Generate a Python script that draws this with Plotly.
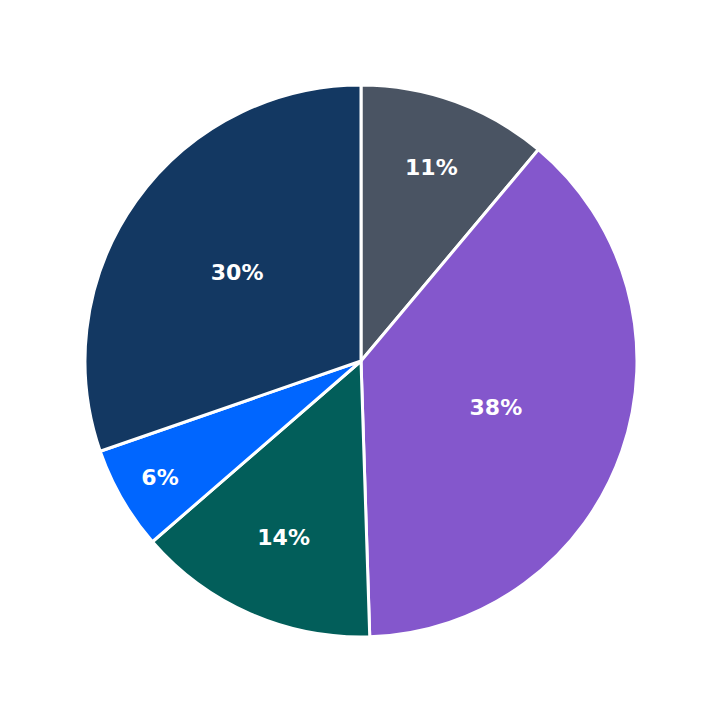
import plotly.graph_objects as go

labels = ["A", "B", "C", "D", "E"]
values = [11, 38, 14, 6, 30]
colors = ["#4a5463", "#8457cc", "#025e5a", "#0066ff", "#133862"]

fig = go.Figure(go.Pie(
    labels=labels, values=values, sort=False, direction="clockwise", rotation=0,
    marker=dict(colors=colors, line=dict(color="white", width=3)),
    texttemplate="<b>%{percent:.0%}</b>", textposition="inside",
    insidetextorientation="horizontal",
    textfont=dict(family="DejaVu Sans", size=22, color="white"),
    domain=dict(x=[77 / 723, 629 / 723], y=[94 / 723, 646 / 723]),
    hoverinfo="label+percent",
))
fig.update_layout(width=723, height=723, showlegend=False,
                  margin=dict(l=0, r=0, t=0, b=0),
                  paper_bgcolor="white", plot_bgcolor="white")
fig.write_html("out.html")
